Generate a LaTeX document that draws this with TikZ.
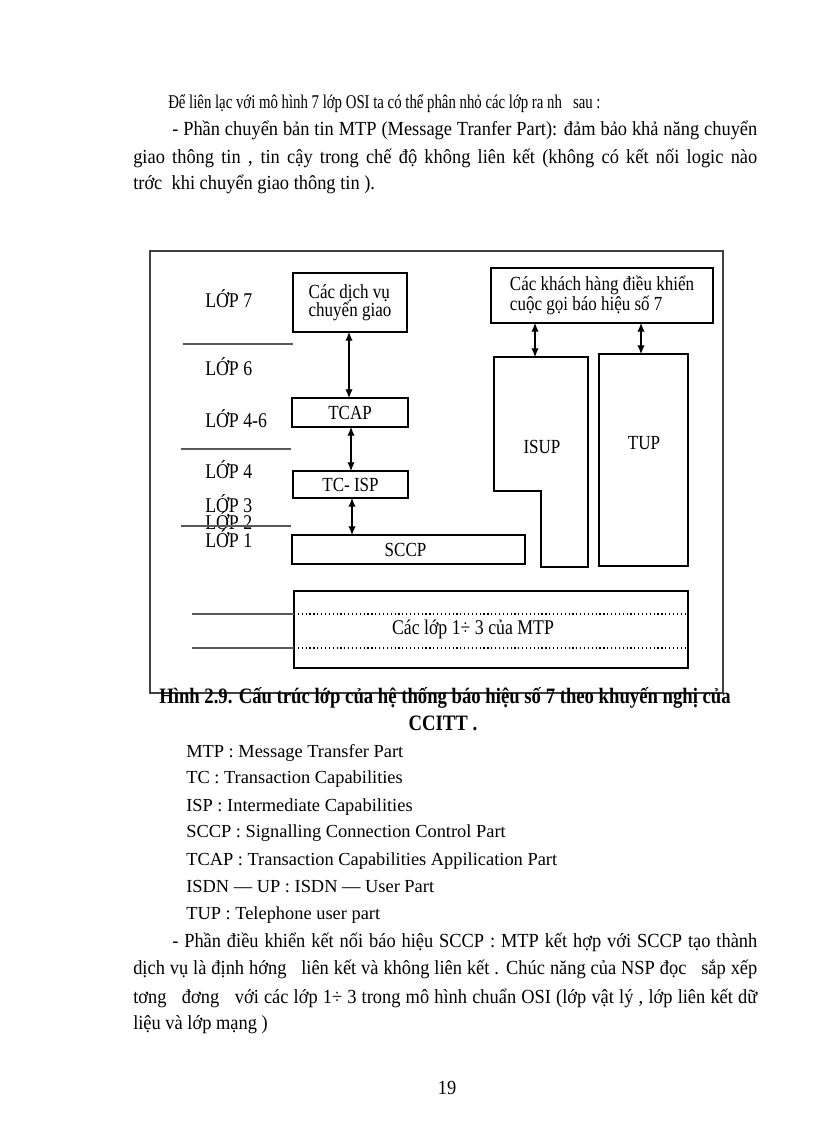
\documentclass[tikz,border=0pt]{standalone}
\usepackage{fontspec}
\setmainfont{Liberation Serif}
\newfontfamily\narrow{Liberation Serif}[FakeStretch=0.85]
\newfontfamily\semi{Liberation Serif}[FakeStretch=0.92]
\newfontfamily\tight{Liberation Serif}[FakeStretch=0.76]
\usetikzlibrary{arrows.meta}
\newdimen\pxu \pxu=0.75pt
\newcommand\txtfirst{\tight\fontsize{14.6}{16}\selectfont}
\newcommand\txtbody{\semi\fontsize{15}{17}\selectfont}
\newcommand\txtlbl{\narrow\fontsize{15}{13.5}\selectfont}
\newcommand\txtlyr{\narrow\fontsize{15.7}{16}\selectfont}
\newcommand\txtcap{\narrow\bfseries\fontsize{16.5}{18}\selectfont}
\newcommand\txtleg{\fontsize{13.8}{16}\selectfont}
\begin{document}
\begin{tikzpicture}[x=0.75pt,y=-0.75pt,
  body/.style={anchor=base west, inner sep=0, font=\txtbody},
  leg/.style={anchor=base west, inner sep=0, font=\txtleg},
  lyr/.style={anchor=base west, inner sep=0, font=\txtlyr},
  box/.style={draw, line width=0.9pt, inner sep=0, outer sep=0, font=\txtlbl, align=left},
  lbl/.style={inner sep=0, font=\txtlbl},
  sepline/.style={line width=1.4pt, draw=black!65},
  frameline/.style={line width=0.8pt, draw=black!75},
  dbl/.style={{Latex[length=6.5pt,width=5.5pt]}-{Latex[length=6.5pt,width=5.5pt]}, line width=0.8pt},
  capt/.style={anchor=base, inner sep=0, font=\txtcap}]
\fill[white] (0,0) rectangle (816,1123);
\useasboundingbox (0,0) rectangle (816,1123);

% intro text
\node[body, font=\txtfirst] (p1) at (168,109) {Để liên lạc với mô hình 7 lớp OSI ta có thể phân nhỏ các lớp ra nh\ \ \ sau :};
\node[body] (p2) at (172,136) {\makebox[585\pxu][s]{- Phần chuyển bản tin MTP (Message Tranfer Part): đảm bảo khả năng chuyển}};
\node[body] (p3) at (133,164) {\makebox[624\pxu][s]{giao thông tin , tin cậy trong chế độ không liên kết (không có kết nối logic nào}};
\node[body] (p4) at (133,190) {trớc\ \ khi chuyển giao thông tin ).};

% frame
\draw[frameline] (150,251) rectangle (723,693);

% layer labels
\node[lyr] (l7) at (205,307) {LỚP 7};
\node[lyr] (l6) at (205,375) {LỚP 6};
\node[lyr] (l46) at (205,427) {LỚP 4-6};
\node[lyr] (l4) at (205,478) {LỚP 4};
\node[lyr] (l3) at (205,512) {LỚP 3};
\node[lyr] (l2) at (205,529) {LỚP 2};
\node[lyr] (l1) at (205,547) {LỚP 1};
\draw[sepline] (183,344) -- (293,344);
\draw[sepline] (181,449) -- (291,449);
\draw[sepline] (181,526) -- (291,526);

% boxes
\node[box, minimum width=114\pxu, minimum height=59\pxu] (cdv) at (350,302.5) {Các dịch vụ\\chuyển giao};
\node[box, minimum width=116\pxu, minimum height=29\pxu] (tcap) at (350,412.5) {TCAP};
\node[box, minimum width=115\pxu, minimum height=27\pxu] (tcisp) at (350.5,484.5) {TC- ISP};
\node[box, minimum width=233\pxu, minimum height=29\pxu] (sccp) at (408.5,549.5) {\hspace*{-6\pxu}SCCP};
\node[box, minimum width=222\pxu, minimum height=55\pxu] (ckh) at (602,295.5) {Các khách hàng điều khiển\\cuộc gọi báo hiệu số 7};
\node[box, minimum width=89\pxu, minimum height=212\pxu] (tup) at (643.5,460) {};
\node[lbl] (tuplbl) at (644,443) {TUP};
\draw[line width=0.9pt] (494,357) -- (588,357) -- (588,567) -- (541,567) -- (541,491) -- (494,491) -- cycle;
\node[lbl] (isup) at (542,447) {ISUP};
\coordinate (isuptop) at (535,357);

% MTP box
\node[box, minimum width=394\pxu, minimum height=77\pxu, font=\txtlyr] (mtp) at (491,629.5) {\hspace*{-36\pxu}Các lớp 1÷ 3 của MTP};
\coordinate (d1) at (192,614);
\coordinate (d2) at (192,648);
\draw[sepline] (d1) -- (d1 -| mtp.west);
\draw[sepline] (d2) -- (d2 -| mtp.west);
\draw[line width=0.9pt, dotted] (d1 -| mtp.west) -- (d1 -| mtp.east);
\draw[line width=0.9pt, dotted] (d2 -| mtp.west) -- (d2 -| mtp.east);

% connectors
\coordinate (ax1) at (349,0);
\coordinate (ax2) at (351,0);
\coordinate (ax3) at (352,0);
\coordinate (ax5) at (641,0);
\draw[dbl] (cdv.south -| ax1) -- (tcap.north -| ax1);
\draw[dbl] (tcap.south -| ax2) -- (tcisp.north -| ax2);
\draw[dbl] (tcisp.south -| ax3) -- (sccp.north -| ax3);
\draw[dbl] (ckh.south -| isuptop) -- (isuptop);
\draw[dbl] (ckh.south -| ax5) -- (tup.north -| ax5);

% caption
\node[capt] (cap1) at (445,703) {Hình 2.9. Cấu trúc lớp của hệ thống báo hiệu số 7 theo khuyến nghị của};
\node[capt] (cap2) at (443,730) {CCITT .};

% legend
\node[leg] (g1) at (186,757) {MTP : Message Transfer Part};
\node[leg] (g2) at (186,783) {TC : Transaction Capabilities};
\node[leg] (g3) at (186,811) {ISP : Intermediate Capabilities};
\node[leg] (g4) at (186,837) {SCCP : Signalling Connection Control Part};
\node[leg] (g5) at (186,865) {TCAP : Transaction Capabilities Appilication Part};
\node[leg] (g6) at (186,892) {ISDN — UP : ISDN — User Part};
\node[leg] (g7) at (186,919) {TUP : Telephone user part};

% closing text
\node[body] (q1) at (172,947) {\makebox[585\pxu][s]{- Phần điều khiển kết nối báo hiệu SCCP : MTP kết hợp với SCCP tạo thành}};
\node[body] (q2) at (133,974) {\makebox[624\pxu][s]{dịch vụ là định hớng\ \ \ liên kết và không liên kết . Chúc năng của NSP đọc\ \ \ sắp xếp}};
\node[body] (q3) at (133,1003) {\makebox[624\pxu][s]{tơng\ \ \ đơng\ \ \ với các lớp 1÷ 3 trong mô hình chuẩn OSI (lớp vật lý , lớp liên kết dữ}};
\node[body] (q4) at (133,1029) {liệu và lớp mạng )};
\node[anchor=base, inner sep=0, font=\txtbody] (pg) at (447,1094) {19};
\end{tikzpicture}
\end{document}
